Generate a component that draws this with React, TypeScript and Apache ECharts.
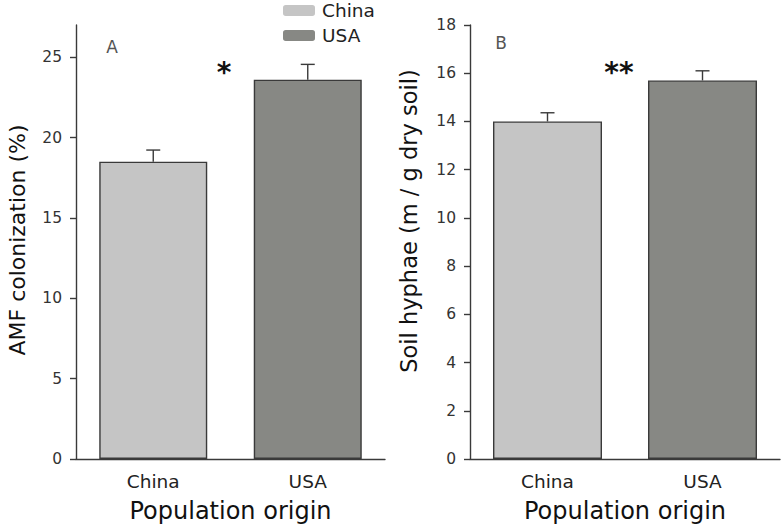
import React, { useEffect, useRef } from "react";
import * as echarts from "echarts";

const categories = ["China", "USA"];
const amfMean = [18.5, 23.6];
const amfSE = [0.72, 0.95];
const amfTicks = [0, 5, 10, 15, 20, 25];
const hyphaeMean = [14.0, 15.7];
const hyphaeSE = [0.36, 0.4];
const hyphaeTicks = [0, 2, 4, 6, 8, 10, 12, 14, 16, 18];

const FONT = "DejaVu Sans";
const CHINA_COLOR = "#c5c5c5";
const USA_COLOR = "#878884";
const EDGE = "#3a3a3a";

function errorData(mean: number[], se: number[]) {
  return mean.map((m, i) => [i, m, m + se[i]]);
}

function errorRender(params: any, api: any) {
  const x = api.value(0);
  const lo = api.coord([x, api.value(1)]);
  const hi = api.coord([x, api.value(2)]);
  const half = 7;
  const style = { stroke: EDGE, lineWidth: 1.4 };
  return {
    type: "group",
    children: [
      { type: "line", shape: { x1: lo[0], y1: lo[1], x2: hi[0], y2: hi[1] }, style },
      { type: "line", shape: { x1: hi[0] - half, y1: hi[1], x2: hi[0] + half, y2: hi[1] }, style },
    ],
  };
}

function valueAxis(gridIndex: number, max: number, interval: number, ticks: number[]) {
  return {
    type: "value",
    gridIndex,
    min: 0,
    max,
    interval,
    axisLine: { show: true, lineStyle: { color: EDGE, width: 1.4 } },
    axisTick: { show: true, length: 6, customValues: ticks, lineStyle: { color: EDGE, width: 1.4 } },
    axisLabel: { customValues: ticks, margin: 14, color: "#333", fontSize: 15.5, fontFamily: FONT },
    splitLine: { show: false },
  };
}

function catAxis(gridIndex: number) {
  return {
    type: "category",
    gridIndex,
    data: categories,
    boundaryGap: true,
    axisLine: { show: true, lineStyle: { color: EDGE, width: 1.4 } },
    axisTick: { show: false },
    axisLabel: { margin: 13, color: "#222", fontSize: 18.5, fontFamily: FONT },
    name: "Population origin",
    nameLocation: "middle",
    nameGap: 40,
    nameTextStyle: { color: "#111", fontSize: 24, fontFamily: FONT },
  };
}

export default function App() {
  const ref = useRef<HTMLDivElement>(null);
  useEffect(() => {
    if (!ref.current) return;
    const chart = echarts.init(ref.current, null, { renderer: "svg" });
    const barStyle = (c: string) => ({ color: c, borderColor: EDGE, borderWidth: 1.4 });
    chart.setOption({
      animation: false,
      backgroundColor: "#ffffff",
      textStyle: { fontFamily: FONT },
      grid: [
        { left: 76, top: 25, width: 309, height: 434 },
        { left: 470, top: 25, width: 310, height: 434 },
      ],
      legend: {
        left: 283,
        top: 1,
        padding: 0,
        orient: "vertical",
        itemWidth: 32,
        itemHeight: 11,
        itemGap: 6,
        data: ["China", "USA"],
        itemStyle: { borderWidth: 0 },
        textStyle: { color: "#222", fontSize: 18.5, fontFamily: FONT, padding: [0, 0, 0, 2] },
      },
      xAxis: [catAxis(0), catAxis(1)],
      yAxis: [valueAxis(0, 27, 5, amfTicks), valueAxis(1, 18, 2, hyphaeTicks)],
      series: [
        {
          name: "China", type: "bar", xAxisIndex: 0, yAxisIndex: 0, barWidth: 108, barGap: "-100%",
          data: [amfMean[0], "-"], itemStyle: barStyle(CHINA_COLOR),
        },
        {
          name: "USA", type: "bar", xAxisIndex: 0, yAxisIndex: 0, barWidth: 108, barGap: "-100%",
          data: ["-", amfMean[1]], itemStyle: barStyle(USA_COLOR),
        },
        {
          name: "China", type: "bar", xAxisIndex: 1, yAxisIndex: 1, barWidth: 109, barGap: "-100%",
          data: [hyphaeMean[0], "-"], itemStyle: barStyle(CHINA_COLOR),
        },
        {
          name: "USA", type: "bar", xAxisIndex: 1, yAxisIndex: 1, barWidth: 109, barGap: "-100%",
          data: ["-", hyphaeMean[1]], itemStyle: barStyle(USA_COLOR),
        },
        {
          type: "custom", xAxisIndex: 0, yAxisIndex: 0, z: 5,
          renderItem: errorRender, data: errorData(amfMean, amfSE),
        },
        {
          type: "custom", xAxisIndex: 1, yAxisIndex: 1, z: 5,
          renderItem: errorRender, data: errorData(hyphaeMean, hyphaeSE),
        },
      ],
      graphic: [
        {
          type: "text", x: 17, y: 240, rotation: Math.PI / 2,
          style: { text: "AMF colonization (%)", font: `22px "${FONT}"`, fill: "#111", align: "center", verticalAlign: "middle" },
        },
        {
          type: "text", x: 409, y: 221, rotation: Math.PI / 2,
          style: { text: "Soil hyphae (m / g dry soil)", font: `22.5px "${FONT}"`, fill: "#111", align: "center", verticalAlign: "middle" },
        },
        {
          type: "text", x: 112, y: 47,
          style: { text: "A", font: `17px "${FONT}"`, fill: "#555", align: "center", verticalAlign: "middle" },
        },
        {
          type: "text", x: 501, y: 43,
          style: { text: "B", font: `17px "${FONT}"`, fill: "#555", align: "center", verticalAlign: "middle" },
        },
        {
          type: "text", x: 224, y: 72,
          style: { text: "*", font: `bold 28px "${FONT}"`, fill: "#111", align: "center", verticalAlign: "middle" },
        },
        {
          type: "text", x: 619, y: 72,
          style: { text: "**", font: `bold 28px "${FONT}"`, fill: "#111", align: "center", verticalAlign: "middle" },
        },
      ],
    });
    return () => chart.dispose();
  }, []);
  return <div ref={ref} style={{ position: "fixed", left: 0, top: 0, width: 784, height: 530 }} />;
}
